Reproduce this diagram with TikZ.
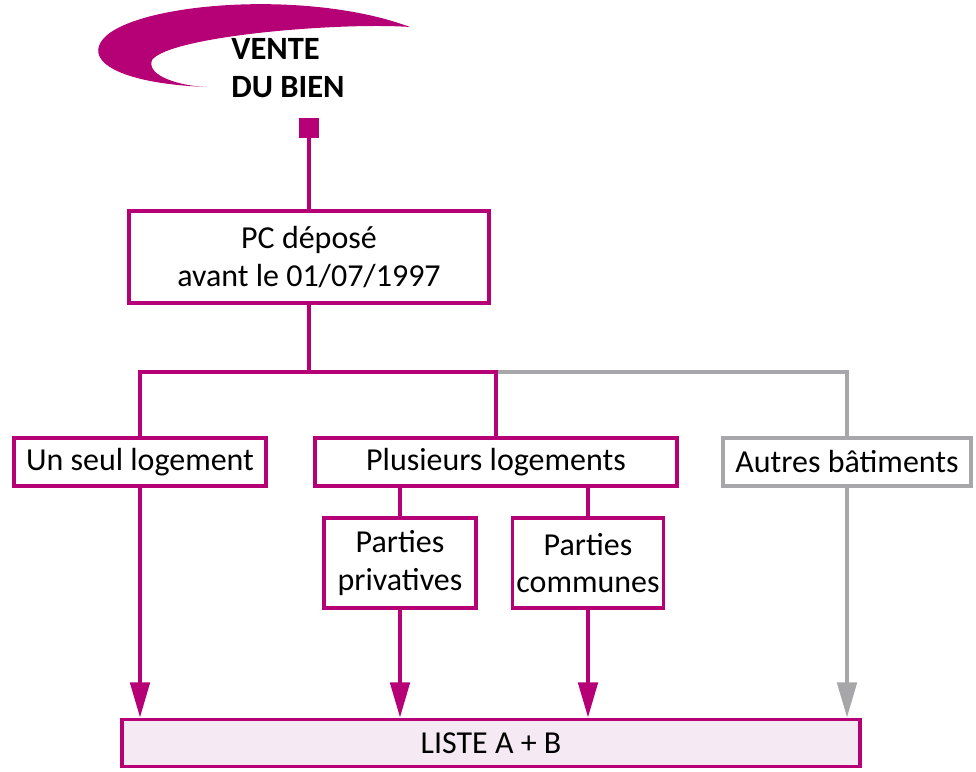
\documentclass[tikz,border=0pt]{standalone}
\usepackage{fontspec}
\setmainfont{Carlito}
\usetikzlibrary{arrows.meta, positioning, calc}

\definecolor{vente}{RGB}{182,0,117}
\definecolor{venteclair}{RGB}{245,234,243}
\definecolor{gris}{RGB}{167,167,170}

\begin{document}
\begin{tikzpicture}[
  x=0.02cm, y=-0.02cm,
  box/.style = {draw=vente, line width=2.2pt, fill=white, minimum height=0.96cm, align=center, inner sep=2pt, font=\fontsize{18.2}{21.5}\selectfont},
  greybox/.style = {box, draw=gris},
  link/.style = {draw=vente, line width=2.2pt},
  arrow/.style = {link, -{Triangle[length=20pt, width=11pt]}}
]
  \useasboundingbox (0,0) rectangle (976,771);

  % Title with swoosh
  \fill[vente] (207,87) .. controls (130,84) and (92,66) .. (99,46)
    .. controls (112,5) and (300,-14) .. (410,27)
    .. controls (340,22) and (170,36) .. (152,60)
    .. controls (146,76) and (180,86) .. (207,87) -- cycle;
  \node[anchor=north west, align=left, inner sep=0, font=\fontsize{18.5}{21.5}\selectfont\bfseries] (titre) at (231,38) {VENTE\\DU BIEN};
  \node[fill=vente, minimum size=0.4cm, inner sep=0] (carre) at (309,128) {};

  % Boxes
  \node[box, minimum width=7.2cm, minimum height=1.84cm] (pc) at (309,257) {PC déposé\\avant le 01/07/1997};
  \node[box, minimum width=5.04cm] (seul) at (140,462) {Un seul logement};
  \node[box, minimum width=7.24cm] (plus) at (496,462) {Plusieurs logements};
  \node[greybox, minimum width=4.96cm] (autres) at (847,462) {Autres bâtiments};
  \node[box, minimum width=3.04cm, minimum height=1.8cm] (priv) at (400,563) {Parties\\privatives};
  \node[box, minimum width=3.02cm, minimum height=1.8cm] (comm) at (588,563) {Parties\\communes};
  \node[box, fill=venteclair, minimum width=14.76cm, minimum height=0.94cm] (liste) at (491,743) {LISTE A + B};

  % Connections
  \coordinate (branche) at (309,372);
  \draw[link] (carre) -- (pc);
  \draw[link, draw=gris] (plus.north |- branche) -| (autres.north);
  \draw[link] (pc.south) -- (branche);
  \draw[link] (seul.north) |- (plus.north |- branche) -- (plus.north);
  \draw[link] (priv.north |- plus.south) -- (priv.north);
  \draw[link] (comm.north |- plus.south) -- (comm.north);

  % Arrows to the list
  \draw[arrow] (seul.south) -- (seul.south |- liste.north);
  \draw[arrow] (priv.south) -- (priv.south |- liste.north);
  \draw[arrow] (comm.south) -- (comm.south |- liste.north);
  \draw[arrow, draw=gris] (autres.south) -- (autres.south |- liste.north);
\end{tikzpicture}
\end{document}
